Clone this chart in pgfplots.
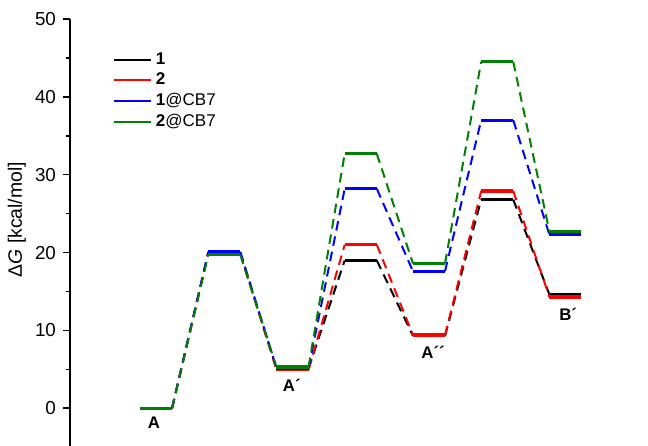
\documentclass[border=0pt]{standalone}
\usepackage{pgfplots}
\pgfplotsset{compat=1.18}
\usepackage{fontspec}
\setmainfont{Liberation Sans}
\usetikzlibrary{calc}
\definecolor{cgreen}{RGB}{0,128,0}
\definecolor{cred}{RGB}{255,0,0}
\definecolor{cblue}{RGB}{0,0,255}
\begin{document}
\begin{tikzpicture}
\begin{axis}[
  name=ax,
  scale only axis,
  width=289pt, height=213.5pt,
  xmin=-0.261, xmax=8.21,
  ymin=-4.85, ymax=50,
  axis x line=none,
  axis y line=left,
  axis line style={-, line width=0.9pt},
  xtick=\empty,
  ytick={0,10,20,30,40,50},
  minor y tick num=1,
  tick align=outside,
  major tick length=3.5pt,
  minor tick length=2.2pt,
  every tick/.style={black, line width=0.8pt},
  /pgf/number format/assume math mode=true,
  yticklabel style={font=\fontsize{9.4}{10}\selectfont},
  ylabel={Δ\textit{G} [kcal/mol]},
  ylabel style={at={(axis description cs:-0.092,0.53)}, anchor=center, font=\fontsize{9.7}{10}\selectfont},
  clip=false,
  unbounded coords=jump,
  legend style={at={(axis cs:0.33,46.5)}, anchor=north west, draw=none, fill=none,
    font=\fontsize{8.5}{9}\selectfont, row sep=-1.2pt, inner sep=1pt},
  legend cell align=left,
  legend image code/.code={\draw[#1] (0pt,0pt) -- (18.5pt,0pt);},
  conn/.style={line width=1pt, dash pattern=on 4.8pt off 3pt},
  lev/.style={line width=1.6pt},
]
\addlegendimage{black, line width=1.1pt}
\addlegendentry{\textbf{1}}
\addlegendimage{cred, line width=1.1pt}
\addlegendentry{\textbf{2}}
\addlegendimage{cblue, line width=1.1pt}
\addlegendentry{\textbf{1}@CB7}
\addlegendimage{cgreen, line width=1.1pt}
\addlegendentry{\textbf{2}@CB7}

% series 1 (black): 0, 19.9, 5.1, 19.0, 9.3, 26.8, 14.6
\addplot[black, conn, forget plot] coordinates {
 (1.235,0) (1.765,19.9) (2,nan) (2.235,19.9) (2.765,5.1) (3,nan)
 (3.235,5.1) (3.765,19.0) (4,nan) (4.235,19.0) (4.765,9.3) (5,nan)
 (5.235,9.3) (5.765,26.8) (6,nan) (6.235,26.8) (6.765,14.6)};
\addplot[black, lev, forget plot] coordinates {
 (0.765,0) (1.235,0) (1.5,nan) (1.765,19.9) (2.235,19.9) (2.5,nan)
 (2.765,5.1) (3.235,5.1) (3.5,nan) (3.765,19.0) (4.235,19.0) (4.5,nan)
 (4.765,9.3) (5.235,9.3) (5.5,nan) (5.765,26.8) (6.235,26.8) (6.5,nan)
 (6.765,14.6) (7.235,14.6)};

% series 2 (red): 0, 19.9, 4.95, 21.0, 9.4, 27.9, 14.3
\addplot[cred, conn, forget plot] coordinates {
 (1.235,0) (1.765,19.9) (2,nan) (2.235,19.9) (2.765,4.95) (3,nan)
 (3.235,4.95) (3.765,21.0) (4,nan) (4.235,21.0) (4.765,9.4) (5,nan)
 (5.235,9.4) (5.765,27.9) (6,nan) (6.235,27.9) (6.765,14.3)};
\addplot[cred, lev, forget plot] coordinates {
 (0.765,0) (1.235,0) (1.5,nan) (1.765,19.9) (2.235,19.9) (2.5,nan)
 (2.765,4.95) (3.235,4.95) (3.5,nan) (3.765,21.0) (4.235,21.0) (4.5,nan)
 (4.765,9.4) (5.235,9.4) (5.5,nan) (5.765,27.9) (6.235,27.9) (6.5,nan)
 (6.765,14.3) (7.235,14.3)};

% series 1@CB7 (blue): 0, 20.1, 5.15, 28.2, 17.6, 37.0, 22.3
\addplot[cblue, conn, forget plot] coordinates {
 (1.235,0) (1.765,20.1) (2,nan) (2.235,20.1) (2.765,5.15) (3,nan)
 (3.235,5.15) (3.765,28.2) (4,nan) (4.235,28.2) (4.765,17.6) (5,nan)
 (5.235,17.6) (5.765,37.0) (6,nan) (6.235,37.0) (6.765,22.3)};
\addplot[cblue, lev, forget plot] coordinates {
 (0.765,0) (1.235,0) (1.5,nan) (1.765,20.1) (2.235,20.1) (2.5,nan)
 (2.765,5.15) (3.235,5.15) (3.5,nan) (3.765,28.2) (4.235,28.2) (4.5,nan)
 (4.765,17.6) (5.235,17.6) (5.5,nan) (5.765,37.0) (6.235,37.0) (6.5,nan)
 (6.765,22.3) (7.235,22.3)};

% series 2@CB7 (green): 0, 19.7, 5.3, 32.7, 18.6, 44.5, 22.7
\addplot[cgreen, conn, forget plot] coordinates {
 (1.235,0) (1.765,19.7) (2,nan) (2.235,19.7) (2.765,5.3) (3,nan)
 (3.235,5.3) (3.765,32.7) (4,nan) (4.235,32.7) (4.765,18.6) (5,nan)
 (5.235,18.6) (5.765,44.5) (6,nan) (6.235,44.5) (6.765,22.7)};
\addplot[cgreen, lev, forget plot] coordinates {
 (0.765,0) (1.235,0) (1.5,nan) (1.765,19.7) (2.235,19.7) (2.5,nan)
 (2.765,5.3) (3.235,5.3) (3.5,nan) (3.765,32.7) (4.235,32.7) (4.5,nan)
 (4.765,18.6) (5.235,18.6) (5.5,nan) (5.765,44.5) (6.235,44.5) (6.5,nan)
 (6.765,22.7) (7.235,22.7)};

\begin{scope}[every node/.style={font=\bfseries\fontsize{8.4}{9}\selectfont}]
\node at (axis cs:0.97,-1.9) {A};
\node at (axis cs:2.99,3.0) {A´};
\node at (axis cs:5.06,7.2) {A´´};
\node at (axis cs:7.04,12.0) {B´};
\end{scope}
\end{axis}
\pgfresetboundingbox
\path ($(ax.south west)+(-35pt,0)$) rectangle ($(ax.north east)+(0,9.5pt)$);
\end{tikzpicture}
\end{document}
